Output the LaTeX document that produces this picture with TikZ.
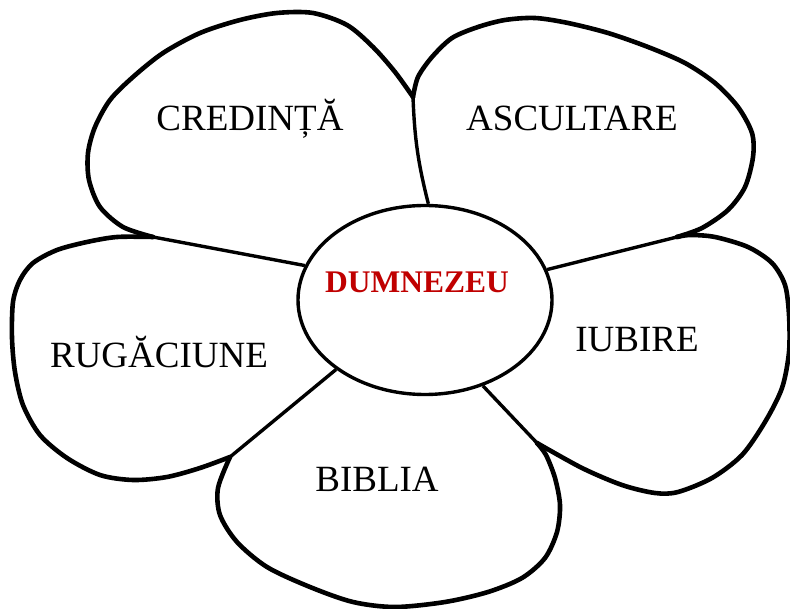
\documentclass[tikz,border=0pt]{standalone}
\usepackage{fontspec}
\setmainfont{Liberation Serif}
\usetikzlibrary{shapes.geometric}
\definecolor{godred}{HTML}{C00000}
\tikzset{
  petal/.style={line width=4.6pt,line join=round,line cap=round},
  divider/.style={line width=3.4pt},
  word/.style={anchor=base,font=\fontsize{37}{40}\selectfont}
}
\begin{document}
\begin{tikzpicture}[x=1pt,y=-1pt]
    \useasboundingbox (0,0) rectangle (790,609);
    % junctions of the petals
    \coordinate (j1) at (153,237);
    \coordinate (c) at (413,97);
    \coordinate (j2) at (677,237);
    \coordinate (j3) at (537,443);
    \coordinate (j4) at (230,457);
    % outline of the petals
    \draw[petal] plot[smooth,tension=0.5] coordinates {(j1) (123,227) (100,207) (89,180) (88,153) (95,127) (110,100) (133,77) (163,53) (200,33) (240,20) (277,13) (313,13) (347,25) (373,47) (395,72) (c)};
    \draw[petal] plot[smooth,tension=0.5] coordinates {(c) (418,77) (432,57) (452,38) (478,27) (505,20) (535,18) (568,23) (608,33) (648,47) (685,63) (715,83) (738,107) (752,133) (753,157) (745,187) (728,210) (702,228) (j2)};
    \draw[petal] plot[smooth,tension=0.5] coordinates {(j2) (690,235) (715,237) (748,247) (772,263) (785,285) (789,315) (789,352) (782,388) (765,422) (742,455) (712,478) (678,492) (655,493) (622,485) (582,468) (j3)};
    \draw[petal] plot[smooth,tension=0.5] coordinates {(j3) (546,455) (555,478) (560,505) (557,532) (545,558) (522,578) (488,592) (445,602) (395,607) (353,602) (310,587) (267,567) (237,542) (220,515) (218,488) (j4)};
    \draw[petal] plot[smooth,tension=0.5] coordinates {(j4) (200,468) (167,477) (133,480) (100,475) (67,458) (40,435) (23,405) (15,372) (12,338) (13,302) (20,280) (33,263) (57,250) (87,242) (117,237) (j1)};
    % centre
    \node[ellipse,draw,line width=3.4pt,fill=white,inner sep=0pt,
      minimum width=254pt,minimum height=189pt] (god) at (425,300) {};
    \node[anchor=base,font=\fontsize{31.5}{34}\selectfont\bfseries,text=godred] (dumnezeu) at (417,293) {DUMNEZEU};
    % lines between the petals
    \draw[divider] (god.164) -- (j1);
    \draw[divider] (god.88) to[bend left=6] (c);
    \draw[divider] (god.14) -- (j2);
    \draw[divider] (god.-56) -- (j3);
    \draw[divider] (god.218) -- (j4);
    % words
    \node[word] (credinta) at (250,131) {CREDINȚĂ};
    \node[word] (ascultare) at (572,131) {ASCULTARE};
    \node[word] (iubire) at (637,352) {IUBIRE};
    \node[word] (biblia) at (377,491) {BIBLIA};
    \node[word] (rugaciune) at (159,368) {RUGĂCIUNE};
\end{tikzpicture}
\end{document}
